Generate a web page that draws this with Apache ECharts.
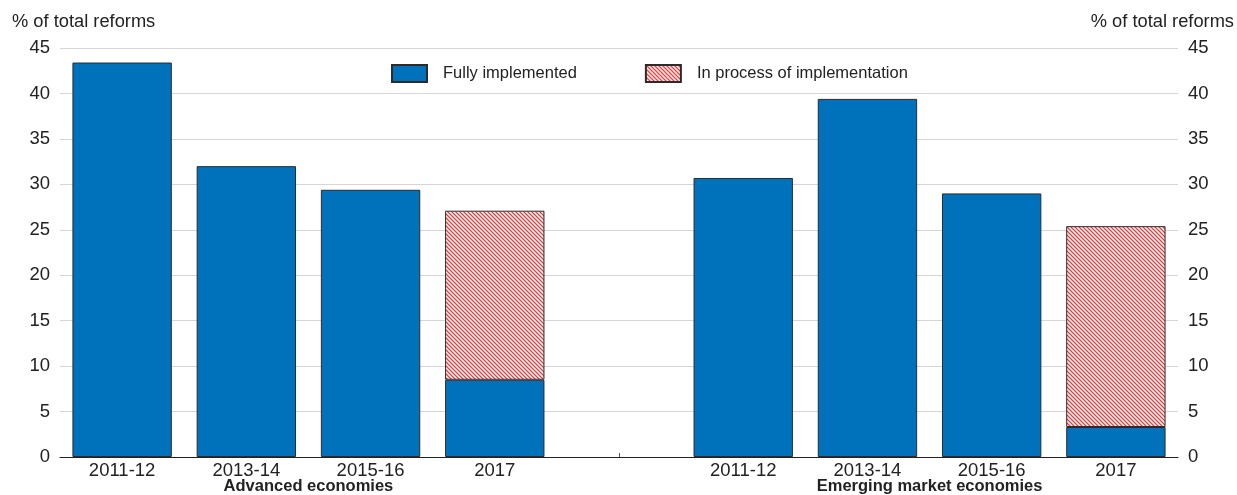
<!DOCTYPE html>
<html>
<head>
<meta charset="utf-8">
<script src="https://cdn.jsdelivr.net/npm/echarts@6/dist/echarts.min.js"></script>
<style>
  html, body { margin: 0; padding: 0; background: #fff; }
  #chart { width: 1237px; height: 495px; }
</style>
</head>
<body>
<div id="chart"></div>
<script>
// Periods for each country group; the blank slot separates the two groups
const categories = ['2011-12', '2013-14', '2015-16', '2017', '', '2011-12', '2013-14', '2015-16', '2017'];
const groupLabels = ['Advanced economies', 'Emerging market economies'];
const fullyImplemented = [43.4, 32.0, 29.4, 8.5, '-', 30.7, 39.4, 29.0, 3.3];
const inProcess = ['-', '-', '-', 18.6, '-', '-', '-', '-', 22.1];
const yTicks = { min: 0, max: 45, interval: 5 };
const axisName = '% of total reforms';

const FONT = '"Liberation Sans", Arial, sans-serif';
const BLUE = '#0072bb';
const INK = '#222';

// Red diagonal hatch for reforms still in progress
function hatchPattern() {
  const c = document.createElement('canvas');
  c.width = 4; c.height = 4;
  const g = c.getContext('2d');
  g.fillStyle = '#ffffff';
  g.fillRect(0, 0, 4, 4);
  g.strokeStyle = '#ee3a3a';
  g.lineWidth = 1.3;
  g.beginPath();
  g.moveTo(-1, -1); g.lineTo(5, 5);
  g.moveTo(-1, 3); g.lineTo(1, 5);
  g.moveTo(3, -1); g.lineTo(5, 1);
  g.stroke();
  return { image: c, repeat: 'repeat' };
}

const chart = echarts.init(document.getElementById('chart'), null, { renderer: 'canvas' });

const yAxisBase = {
  type: 'value',
  min: yTicks.min, max: yTicks.max, interval: yTicks.interval,
  axisLine: { show: false },
  axisTick: { show: false },
  splitLine: { lineStyle: { color: '#d6d6d6', width: 1 } },
  axisLabel: { color: INK, fontFamily: FONT, fontSize: 18.5, margin: 10 }
};

const titleStyle = { fontFamily: FONT, fontSize: 18.3, fontWeight: 'normal', color: INK };

chart.setOption({
  animation: false,
  backgroundColor: '#fff',
  title: [
    { text: axisName, left: 12, top: 13, padding: 0, textStyle: titleStyle },
    { text: axisName, right: 3, top: 13, padding: 0, textStyle: titleStyle }
  ],
  legend: {
    top: 64,
    left: 391,
    padding: 0,
    itemWidth: 35,
    itemHeight: 17,
    itemGap: 68,
    icon: 'rect',
    textStyle: { fontFamily: FONT, fontSize: 16.5, color: INK, padding: [0, 0, 0, 11] },
    data: ['Fully implemented', 'In process of implementation']
  },
  grid: { left: 60, right: 59, top: 48, bottom: 38 },
  xAxis: {
    type: 'category',
    data: categories,
    axisLine: { lineStyle: { color: INK, width: 1.2 } },
    axisTick: {
      show: true, inside: true, length: 4, alignWithLabel: true,
      interval: (idx) => idx === 4,
      lineStyle: { color: '#555' }
    },
    axisLabel: { color: INK, fontFamily: FONT, fontSize: 18.5, margin: 4, interval: 0 }
  },
  yAxis: [
    Object.assign({ position: 'left' }, yAxisBase),
    Object.assign({ position: 'right' }, yAxisBase, { splitLine: { show: false } })
  ],
  series: [
    {
      name: 'Fully implemented',
      type: 'bar',
      stack: 'total',
      barWidth: '80%',
      data: fullyImplemented,
      itemStyle: { color: BLUE, borderColor: '#2b2b2b', borderWidth: 1 }
    },
    {
      name: 'In process of implementation',
      type: 'bar',
      stack: 'total',
      barWidth: '80%',
      data: inProcess,
      itemStyle: { color: hatchPattern(), borderColor: '#2b2b2b', borderWidth: 1 }
    }
  ]
});

// Group captions centred under each group's four bars
function placeGroupLabels() {
  const px = (i) => chart.convertToPixel({ xAxisIndex: 0 }, i);
  const centres = [(px(1) + px(2)) / 2, (px(6) + px(7)) / 2];
  chart.setOption({
    graphic: groupLabels.map((t, k) => ({
      type: 'text',
      x: centres[k],
      y: 478,
      style: {
        text: t, align: 'center', verticalAlign: 'top',
        font: 'bold 16.5px ' + FONT, fill: INK
      }
    }))
  });
}
placeGroupLabels();
</script>
</body>
</html>
